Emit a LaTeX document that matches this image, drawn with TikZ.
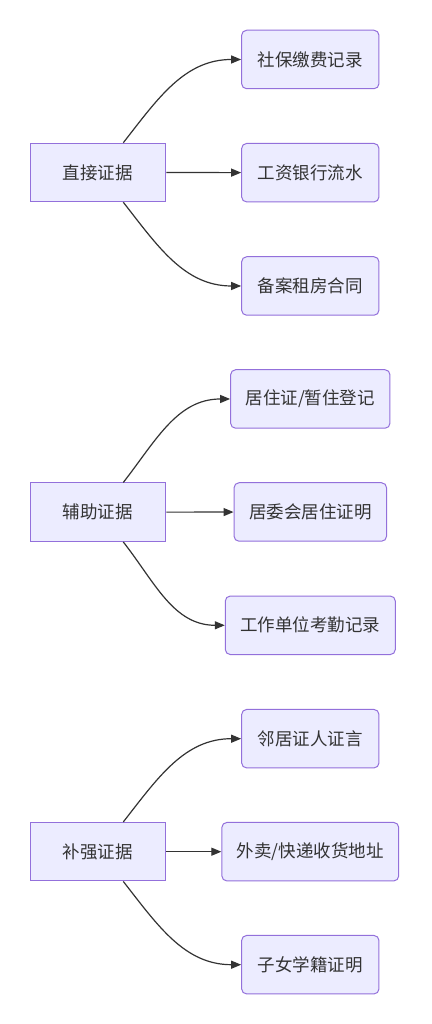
\documentclass[tikz,border=0pt]{standalone}
\usepackage{fontspec}
\setmainfont{Noto Sans CJK SC}
\usetikzlibrary{arrows.meta}

\definecolor{boxfill}{HTML}{ECECFF}
\definecolor{boxline}{HTML}{9370DB}
\definecolor{inkgray}{HTML}{333333}

\tikzset{
    evid/.style={draw=boxline, fill=boxfill, rectangle, line width=1pt,
        minimum width=135.7pt, minimum height=58.5pt, text=inkgray,
        font=\fontsize{17.5}{21}\selectfont},
    item/.style={evid, rounded corners=5pt, minimum width=137.3pt, inner xsep=15pt},
    link/.style={->, draw=inkgray, line width=1.2pt},
}

\begin{document}
\begin{tikzpicture}[x=1pt, y=1pt, >={Triangle[length=10pt, width=8pt]}]

    % 画布
    \fill[white] (0, 0) rectangle (431, 1024);
    \useasboundingbox (0, 0) rectangle (431, 1024);

    % 直接证据
    \node[evid] (zhijie) at (97.9, 851.5) {直接证据};
    \node[item] (shebao) at (310.3, 964.5) {社保缴费记录};
    \node[item] (gongzi) at (310.3, 851.3) {工资银行流水};
    \node[item] (zufang) at (310.3, 738.0) {备案租房合同};

    \draw[link] ([xshift=25.4pt]zhijie.north) to[out=52, in=180] (shebao.west);
    \draw[link] (zhijie) -- (gongzi);
    \draw[link] ([xshift=25.4pt]zhijie.south) to[out=-52, in=180] (zufang.west);

    % 辅助证据
    \node[evid] (fuzhu) at (97.9, 511.8) {辅助证据};
    \node[item] (juzhuzheng) at (310.3, 625.0) {居住证/暂住登记};
    \node[item] (juweihui) at (310.3, 512.0) {居委会居住证明};
    \node[item] (kaoqin) at (310.3, 398.7) {工作单位考勤记录};

    \draw[link] ([xshift=25.4pt]fuzhu.north) to[out=52, in=180] (juzhuzheng.west);
    \draw[link] (fuzhu) -- (juweihui);
    \draw[link] ([xshift=25.4pt]fuzhu.south) to[out=-52, in=180] (kaoqin.west);

    % 补强证据
    \node[evid] (buqiang) at (97.9, 172.3) {补强证据};
    \node[item] (linju) at (310.3, 285.3) {邻居证人证言};
    \node[item] (waimai) at (310.3, 172.3) {外卖/快递收货地址};
    \node[item] (xueji) at (310.3, 59.3) {子女学籍证明};

    \draw[link] ([xshift=25.4pt]buqiang.north) to[out=52, in=180] (linju.west);
    \draw[link] (buqiang) -- (waimai);
    \draw[link] ([xshift=25.4pt]buqiang.south) to[out=-52, in=180] (xueji.west);

\end{tikzpicture}
\end{document}
